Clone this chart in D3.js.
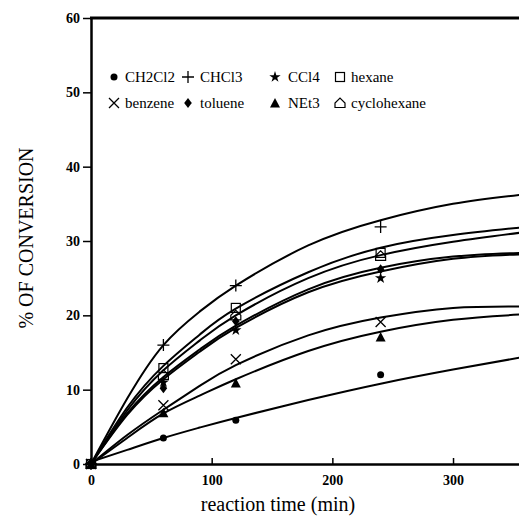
<!DOCTYPE html>
<html>
<head>
<meta charset="utf-8">
<script src="https://cdn.jsdelivr.net/npm/d3@7"></script>
<style>
  body { margin: 0; background: #fff; }
  svg { display: block; }
  text { font-family: "Liberation Serif", "Times New Roman", serif; fill: #000; }
</style>
</head>
<body>
<div id="chart"></div>
<script>
// measured points (min, % conversion)
const times = [0, 60, 120, 240];
const ptCH2Cl2 = [0, 3.5, 5.9, 12.0];
const ptCHCl3 = [0, 16.0, 24.0, 31.9];
const ptCCl4 = [0, 11.0, 18.0, 25.0];
const ptHexane = [0, 12.9, 21.0, 28.4];
const ptBenzene = [0, 7.9, 14.1, 19.1];
const ptToluene = [0, 10.2, 19.2, 26.2];
const ptNEt3 = [0, 6.9, 10.9, 17.1];
const ptCyclohexane = [0, 12.0, 20.0, 28.0];

// fitted curves
const fitTimes = [0, 30, 60, 90, 120, 180, 240, 300, 355];
const fitCH2Cl2 = [0.3, 1.9, 3.5, 4.9, 6.2, 8.6, 10.8, 12.7, 14.3];
const fitCHCl3 = [0, 8.8, 16.0, 20.5, 24.0, 29.4, 32.8, 35.0, 36.2];
const fitCCl4 = [0, 6.6, 11.4, 15.1, 18.3, 23.1, 25.9, 27.6, 28.2];
const fitHexane = [0, 7.6, 13.2, 17.4, 20.9, 25.8, 29.1, 30.8, 31.8];
const fitBenzene = [0, 3.9, 7.3, 10.5, 13.3, 17.3, 19.7, 21.0, 21.2];
const fitToluene = [0, 6.8, 11.7, 15.4, 18.6, 23.5, 26.4, 27.9, 28.4];
const fitNEt3 = [0, 3.5, 6.8, 9.2, 11.4, 15.2, 17.8, 19.4, 20.1];
const fitCyclohexane = [0, 7.2, 12.6, 16.6, 20.0, 25.0, 28.1, 29.9, 31.1];

const names = ["CH2Cl2", "CHCl3", "CCl4", "hexane", "benzene", "toluene", "NEt3", "cyclohexane"];
const symbols = ["circle", "plus", "star", "square", "times", "diamond", "triangle", "house"];
const points = [ptCH2Cl2, ptCHCl3, ptCCl4, ptHexane, ptBenzene, ptToluene, ptNEt3, ptCyclohexane];
const fits = [fitCH2Cl2, fitCHCl3, fitCCl4, fitHexane, fitBenzene, fitToluene, fitNEt3, fitCyclohexane];

const yTicks = [0, 10, 20, 30, 40, 50, 60];
const xTicks = [0, 100, 200, 300];

const serif = '"Liberation Serif", "Times New Roman", serif';

function init() {
    const width = 519, height = 517;
    const svg = d3.select('#chart').append('svg')
        .attr('width', width)
        .attr('height', height);

    const x = d3.scaleLinear().domain([0, 355]).range([91, 519.4]);
    const y = d3.scaleLinear().domain([0, 60]).range([464, 18]);

    svg.append('clipPath').attr('id', 'plot')
        .append('rect')
        .attr('x', x(0)).attr('y', y(60))
        .attr('width', width - x(0)).attr('height', y(0) - y(60));

    // fitted curves
    const line = d3.line()
        .x((d, i) => x(fitTimes[i]))
        .y(d => y(d))
        .curve(d3.curveNatural);

    svg.append('g')
        .attr('clip-path', 'url(#plot)')
        .selectAll('path')
        .data(fits)
        .join('path')
        .attr('d', line)
        .attr('fill', 'none')
        .attr('stroke', '#000')
        .attr('stroke-width', 2);

    // axes
    const yAxis = svg.append('g')
        .attr('transform', `translate(${x(0)},0)`)
        .call(d3.axisLeft(y).tickValues(yTicks).tickSizeInner(8).tickSizeOuter(0).tickPadding(3))
        .attr('font-family', serif);
    yAxis.selectAll('text')
        .style('font-family', serif)
        .style('font-size', '14px')
        .style('font-weight', 'bold');

    const xAxis = svg.append('g')
        .attr('transform', `translate(0,${y(0)})`)
        .call(d3.axisBottom(x).tickValues(xTicks).tickSizeInner(-6).tickSizeOuter(0).tickPadding(11))
        .attr('font-family', serif);
    xAxis.selectAll('text')
        .style('font-family', serif)
        .style('font-size', '14px')
        .style('font-weight', 'bold');

    svg.selectAll('.domain').attr('stroke-width', 2.5);
    svg.selectAll('.tick line').attr('stroke-width', 1.5);

    // top frame line
    svg.append('line')
        .attr('x1', x(0) - 1).attr('x2', width)
        .attr('y1', y(60)).attr('y2', y(60))
        .attr('stroke', '#000')
        .attr('stroke-width', 3);

    // data markers
    const markers = svg.append('g');
    points.forEach((vals, s) => {
        vals.forEach((v, i) => {
            drawMarker(markers, symbols[s], x(times[i]), y(v));
        });
    });

    // legend
    const legendCols = [[114, 125], [188, 200], [275, 288], [340, 351]];
    const legendRows = [77, 103];
    names.forEach((name, i) => {
        const col = legendCols[i % 4];
        const row = legendRows[Math.floor(i / 4)];
        drawMarker(svg, symbols[i], col[0], row);
        svg.append('text')
            .attr('x', col[1])
            .attr('y', row + 5)
            .style('font-family', serif)
            .style('font-size', '15px')
            .text(name);
    });

    // axis titles
    svg.append('text')
        .attr('x', 278)
        .attr('y', 511)
        .attr('text-anchor', 'middle')
        .style('font-family', serif)
        .style('font-size', '20px')
        .text('reaction time (min)');

    svg.append('text')
        .attr('transform', 'translate(33,238) rotate(-90)')
        .attr('text-anchor', 'middle')
        .style('font-family', serif)
        .style('font-size', '20px')
        .text('% OF CONVERSION');
}

function drawMarker(g, type, cx, cy) {
    const m = g.append('g').attr('transform', `translate(${cx},${cy})`);
    switch (type) {
        case 'circle':
            m.append('circle').attr('r', 3.5).attr('fill', '#000');
            break;
        case 'plus':
            m.append('path').attr('d', 'M-6,0H6M0,-6V6')
                .attr('stroke', '#000').attr('stroke-width', 1.3).attr('fill', 'none');
            break;
        case 'times':
            m.append('path').attr('d', 'M-5,-5L5,5M-5,5L5,-5')
                .attr('stroke', '#000').attr('stroke-width', 1.3).attr('fill', 'none');
            break;
        case 'star':
            m.append('path').attr('d', d3.symbol(d3.symbolStar, 40)()).attr('fill', '#000');
            break;
        case 'square':
            m.append('rect').attr('x', -4.5).attr('y', -4.5).attr('width', 9).attr('height', 9)
                .attr('fill', 'none').attr('stroke', '#000').attr('stroke-width', 1.2);
            break;
        case 'diamond':
            m.append('path').attr('d', 'M0,-5L3.8,0L0,5L-3.8,0Z').attr('fill', '#000');
            break;
        case 'triangle':
            m.append('path').attr('d', 'M0,-5L5,4.5H-5Z').attr('fill', '#000');
            break;
        case 'house':
            m.append('path').attr('d', 'M-5,4.5H5V0L0,-5L-5,0Z')
                .attr('fill', 'none').attr('stroke', '#000').attr('stroke-width', 1.2);
            break;
        default:
            break;
    }
}

window.onload = init;
</script>
</body>
</html>
